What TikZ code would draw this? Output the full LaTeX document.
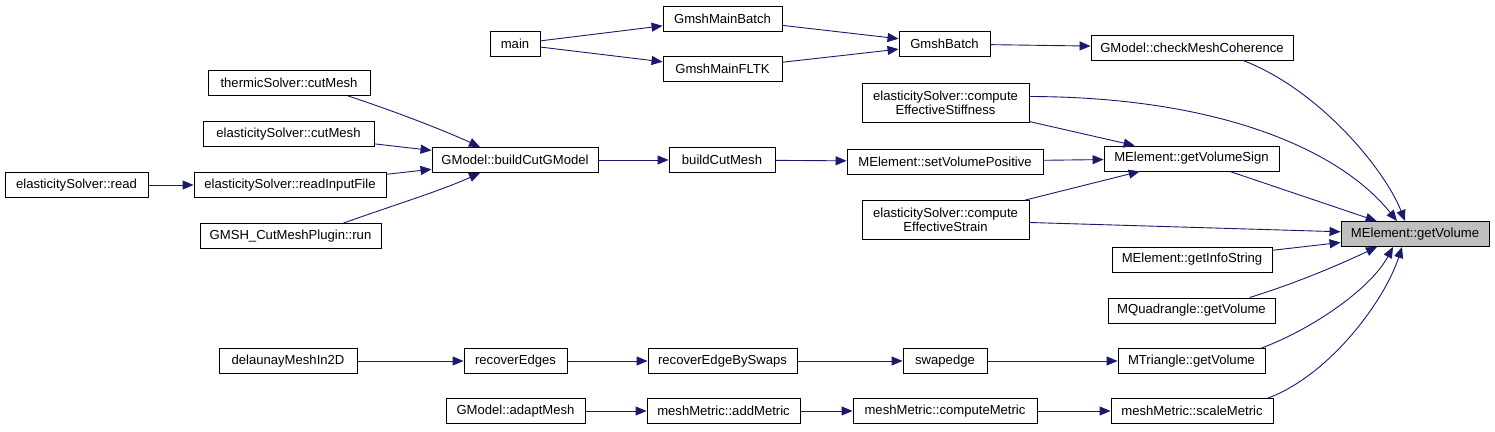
\documentclass[tikz,border=0pt]{standalone}
\usepackage{fontspec}
\setmainfont{Liberation Sans}
\usetikzlibrary{arrows.meta}
\definecolor{edgeblue}{HTML}{191970}
\definecolor{hl}{HTML}{BFBFBF}
\tikzset{
  box/.style={draw=black, line width=0.9pt, fill=white, minimum height=25pt, inner sep=0pt, align=center, font=\fontsize{13.1}{14.2}\selectfont},
  tall/.style={minimum height=39pt},
  e/.style={draw=edgeblue, line width=0.9pt, -{Triangle[length=11pt,width=9pt]}}
}
\begin{document}
\begin{tikzpicture}[x=1pt,y=1pt]
\useasboundingbox[fill=white] (0,0) rectangle (1495,431);
% top group
\node[box, minimum width=50pt] (main) at (515,387) {main};
\node[box, minimum width=119pt] (gmb) at (722.5,412.5) {GmshMainBatch};
\node[box, minimum width=119pt] (gmf) at (722.5,362) {GmshMainFLTK};
\node[box, minimum width=91pt] (gb) at (944.5,387) {GmshBatch};
\node[box, minimum width=202pt] (chk) at (1192,383.5) {GModel::checkMeshCoherence};
% middle column
\node[box, tall, minimum width=167pt] (stiff) at (945.5,328.5) {elasticitySolver::compute\\EffectiveStiffness};
\node[box, minimum width=196pt] (setvp) at (945,269.5) {MElement::setVolumePositive};
\node[box, tall, minimum width=167pt] (strain) at (945.5,211) {elasticitySolver::compute\\EffectiveStrain};
% right column
\node[box, minimum width=175pt] (gvs) at (1191.5,272.5) {MElement::getVolumeSign};
\node[box, minimum width=148pt, fill=hl] (gv) at (1415,197) {MElement::getVolume};
\node[box, minimum width=160pt] (info) at (1192,171.5) {MElement::getInfoString};
\node[box, minimum width=167pt] (quad) at (1191.5,120.5) {MQuadrangle::getVolume};
\node[box, minimum width=147pt] (tri) at (1191.5,70) {MTriangle::getVolume};
\node[box, minimum width=162pt] (scale) at (1192,20) {meshMetric::scaleMetric};
% left group
\node[box, minimum width=162pt] (thermic) at (289,348) {thermicSolver::cutMesh};
\node[box, minimum width=171pt] (ecut) at (288.5,297) {elasticitySolver::cutMesh};
\node[box, minimum width=143pt] (read) at (76.5,246) {elasticitySolver::read};
\node[box, minimum width=192pt] (rif) at (290,246) {elasticitySolver::readInputFile};
\node[box, minimum width=181pt] (plugin) at (290.5,195) {GMSH\_CutMeshPlugin::run};
\node[box, minimum width=166pt] (bcg) at (515,271) {GModel::buildCutGModel};
\node[box, minimum width=106pt] (bcm) at (722,271) {buildCutMesh};
% bottom rows
\node[box, minimum width=138pt] (del) at (288,70) {delaunayMeshIn2D};
\node[box, minimum width=103pt] (rece) at (515.5,70) {recoverEdges};
\node[box, minimum width=149pt] (recs) at (722.5,70) {recoverEdgeBySwaps};
\node[box, minimum width=84pt] (swap) at (945,70) {swapedge};
\node[box, minimum width=139pt] (adapt) at (515.5,20) {GModel::adaptMesh};
\node[box, minimum width=153pt] (addm) at (723.5,20) {meshMetric::addMetric};
\node[box, minimum width=184pt] (comp) at (945,20) {meshMetric::computeMetric};
% edges
\draw[e] (main) -- (gmb);
\draw[e] (main) -- (gmf);
\draw[e] (gmb) -- (gb);
\draw[e] (gmf) -- (gb);
\draw[e] (gb) -- (chk);
\draw[e] ([xshift=51pt]chk.south) .. controls (1320,341) and (1385,261) .. ([xshift=-10pt]gv.north);
\draw[e] ([yshift=6pt]stiff.east) .. controls (1220,334) and (1340,281) .. ([xshift=-18pt]gv.north);
\draw[e] (stiff) -- (gvs);
\draw[e] (setvp) -- (gvs);
\draw[e] (strain) -- (gvs);
\draw[e] (strain) -- (gv);
\draw[e] (gvs) -- (gv);
\draw[e] (info) -- (gv);
\draw[e] ([xshift=58pt]quad.north) .. controls (1300,149) and (1345,169) .. ([xshift=-38pt]gv.south);
\draw[e] ([xshift=70pt]tri.north) .. controls (1310,101) and (1370,141) .. ([xshift=-22pt]gv.south);
\draw[e] ([xshift=76pt]scale.north) .. controls (1330,56) and (1385,131) .. ([xshift=-13pt]gv.south);
\draw[e] ([xshift=59pt]thermic.south) .. controls (400,318) and (450,298) .. ([xshift=-35pt]bcg.north);
\draw[e] (ecut) -- (bcg);
\draw[e] (rif) -- (bcg);
\draw[e] ([xshift=53pt]plugin.north) .. controls (400,228) and (440,240) .. ([xshift=-35pt]bcg.south);
\draw[e] (read) -- (rif);
\draw[e] (bcg) -- (bcm);
\draw[e] (bcm) -- (setvp);
\draw[e] (del) -- (rece);
\draw[e] (rece) -- (recs);
\draw[e] (recs) -- (swap);
\draw[e] (swap) -- (tri);
\draw[e] (adapt) -- (addm);
\draw[e] (addm) -- (comp);
\draw[e] (comp) -- (scale);
\end{tikzpicture}
\end{document}
